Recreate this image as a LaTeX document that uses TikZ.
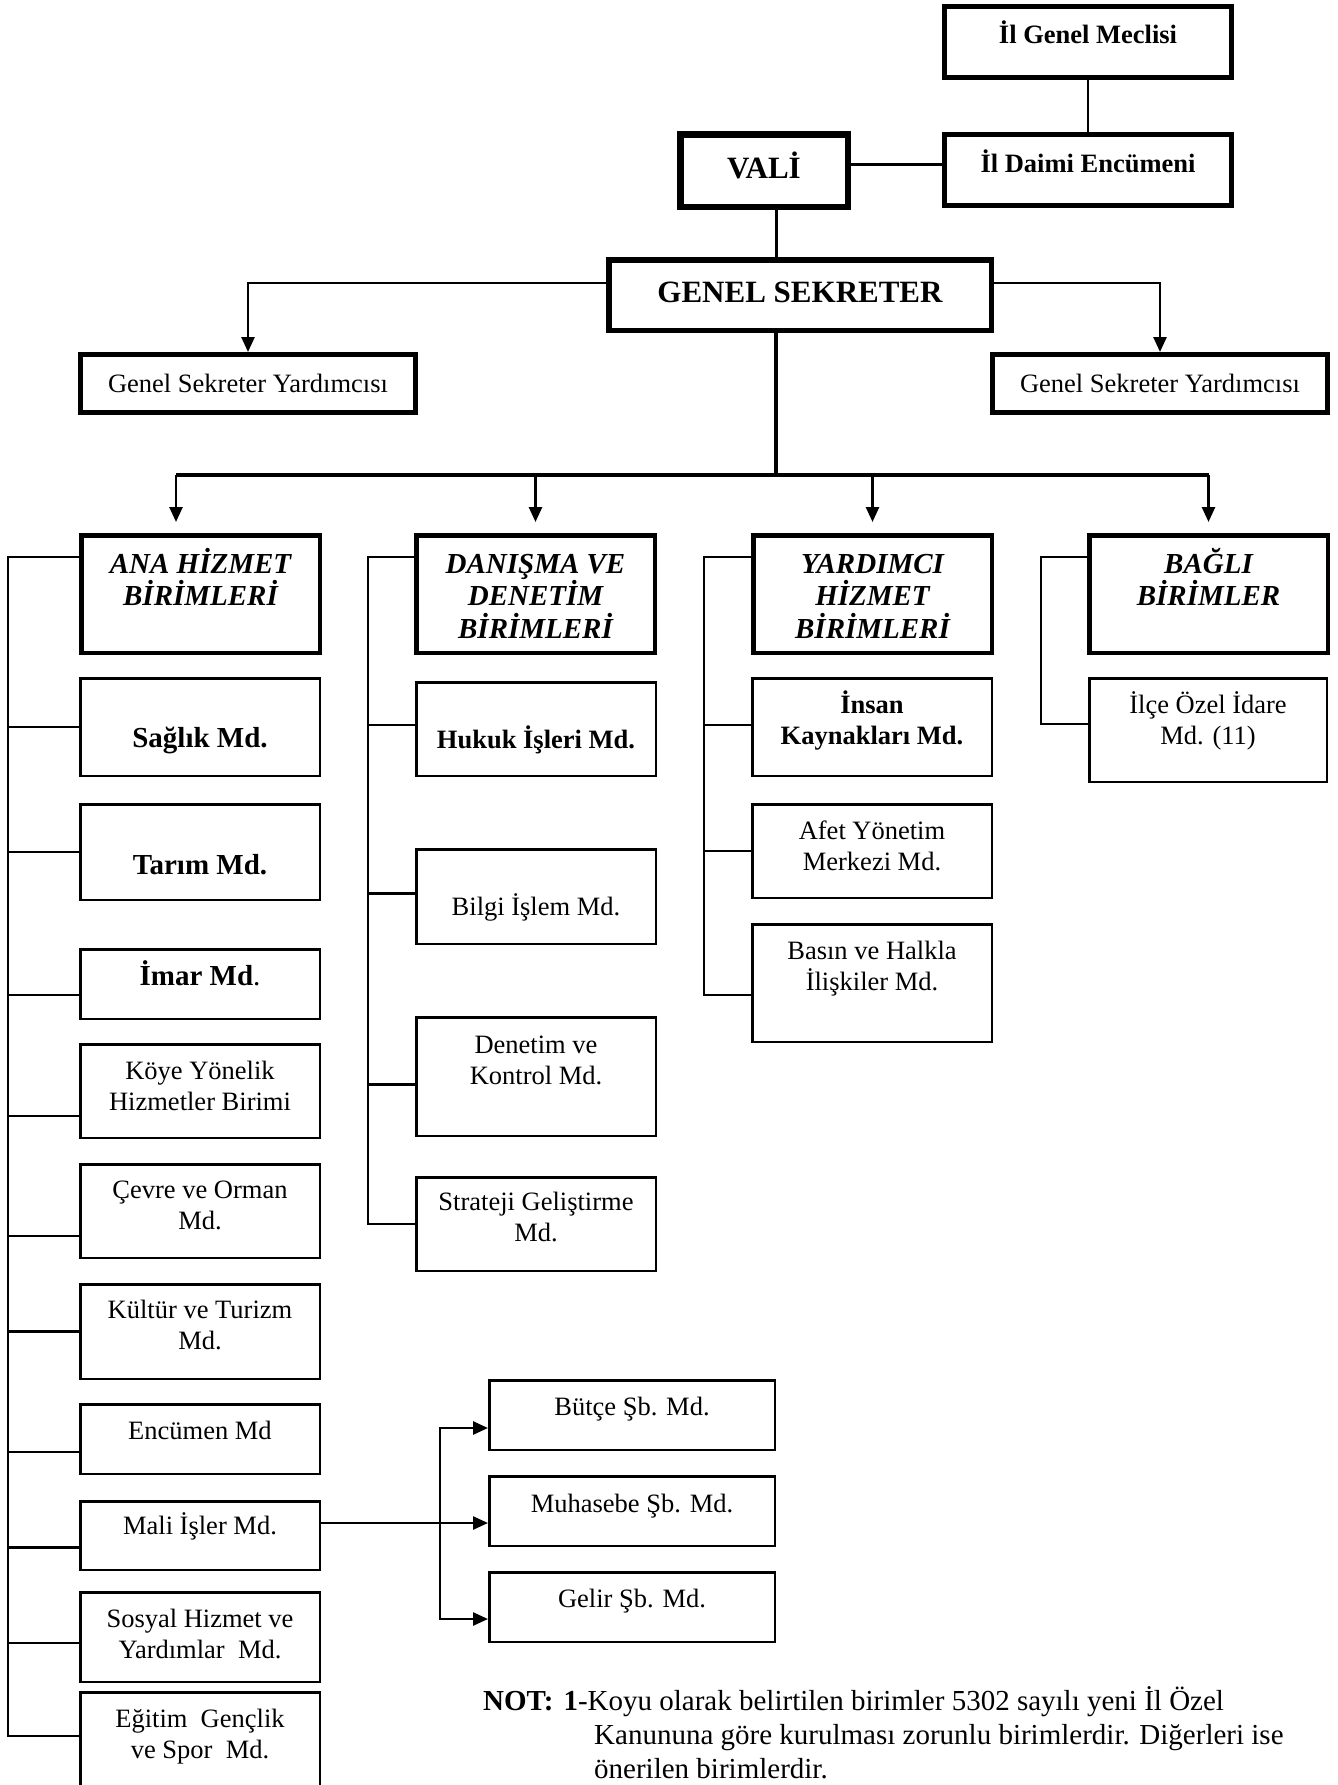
\documentclass[tikz,border=0pt]{standalone}
\usepackage{fontspec}
\setmainfont{Liberation Serif}
\usetikzlibrary{arrows.meta}
% kutu icerigi: genislik, yukseklik, ilk satirin taban cizgisi
\newcommand{\bx}[4][35pt]{\parbox[c][#3][t]{#2}{\centering\rule{0pt}{#1}#4\par}}
\tikzset{
 unitbox/.style={draw, line width=2.5pt, inner sep=0pt, anchor=north west},
 topbox/.style={unitbox, line width=5pt, font=\fontsize{26.5}{31}\selectfont\bfseries},
 headbox/.style={unitbox, line width=4.5pt, font=\fontsize{29}{32.5}\selectfont\bfseries\itshape},
 conn/.style={line width=2.6pt},
 spine/.style={line width=2.2pt},
}
\begin{document}
\begin{tikzpicture}[x=1pt, y=-1pt, font=\fontsize{26.5}{31}\selectfont, >={Triangle[length=15pt,width=13pt]}]
 \useasboundingbox (0,0) rectangle (1338,1785);
 % ust kademe
 \node[topbox] (meclis) at (942,4) {\bx[37pt]{287pt}{71pt}{İl Genel Meclisi}};
 \node[topbox] (encumeni) at (942,132) {\bx[38pt]{287pt}{71pt}{İl Daimi Encümeni}};
 \node[topbox, line width=6.5pt, font=\fontsize{31}{35}\selectfont\bfseries] (vali) at (677,131) {\bx[44pt]{167.5pt}{72.5pt}{VALİ}};
 \node[topbox, line width=5.5pt, font=\fontsize{31}{35}\selectfont\bfseries] (gs) at (606,257) {\bx[43pt]{382.5pt}{70.5pt}{GENEL SEKRETER}};
 \node[topbox, font=\fontsize{26.5}{31}\selectfont] (gsyL) at (78,352) {\bx[38pt]{335pt}{58pt}{Genel Sekreter Yardımcısı}};
 \node[topbox, font=\fontsize{26.5}{31}\selectfont] (gsyR) at (990,352) {\bx[38pt]{335pt}{58pt}{Genel Sekreter Yardımcısı}};
 % birim basliklari
 \node[headbox] (ana) at (79,533) {\bx[38pt]{238.5pt}{117.5pt}{ANA HİZMET\\BİRİMLERİ}};
 \node[headbox] (dan) at (414,533) {\bx[38pt]{238.5pt}{117.5pt}{DANIŞMA VE\\DENETİM\\BİRİMLERİ}};
 \node[headbox] (yar) at (751,533) {\bx[38pt]{238.5pt}{117.5pt}{YARDIMCI\\HİZMET\\BİRİMLERİ}};
 \node[headbox] (bag) at (1087,533) {\bx[38pt]{238.5pt}{117.5pt}{BAĞLI\\BİRİMLER}};
 % ana hizmet birimleri
 \node[unitbox, font=\fontsize{29}{33}\selectfont\bfseries] (saglik) at (79,677) {\bx[69pt]{239.5pt}{97.5pt}{Sağlık Md.}};
 \node[unitbox, font=\fontsize{29}{33}\selectfont\bfseries] (tarim) at (79,803) {\bx[70pt]{239.5pt}{95.5pt}{Tarım Md.}};
 \node[unitbox, font=\fontsize{29}{33}\selectfont] (imar) at (79,948) {\bx[36pt]{239.5pt}{69.5pt}{\textbf{İmar Md}.}};
 \node[unitbox] (koye) at (79,1043) {\bx{239.5pt}{93.5pt}{Köye Yönelik\\Hizmetler Birimi}};
 \node[unitbox] (cevre) at (79,1163) {\bx[34pt]{239.5pt}{93.5pt}{Çevre ve Orman\\Md.}};
 \node[unitbox] (kultur) at (79,1283) {\bx[34pt]{239.5pt}{94.5pt}{Kültür ve Turizm\\Md.}};
 \node[unitbox] (encumen) at (79,1403) {\bx{239.5pt}{69.5pt}{Encümen Md}};
 \node[unitbox] (mali) at (79,1500) {\bx[33pt]{239.5pt}{68.5pt}{Mali İşler Md.}};
 \node[unitbox] (sosyal) at (79,1591) {\bx{239.5pt}{89.5pt}{Sosyal Hizmet ve\\Yardımlar~ Md.}};
 \node[unitbox] (egitim) at (79,1691) {\bx{239.5pt}{120pt}{Eğitim~ Gençlik\\ve Spor~ Md.}};
 % danisma ve denetim birimleri
 \node[unitbox, font=\fontsize{26.5}{31}\selectfont\bfseries] (hukuk) at (415,681) {\bx[66pt]{239.5pt}{93.5pt}{Hukuk İşleri Md.}};
 \node[unitbox] (bilgi) at (415,848) {\bx[66pt]{239.5pt}{94.5pt}{Bilgi İşlem Md.}};
 \node[unitbox] (denetim) at (415,1016) {\bx[36pt]{239.5pt}{118.5pt}{Denetim ve\\Kontrol Md.}};
 \node[unitbox] (strateji) at (415,1176) {\bx[33pt]{239.5pt}{93.5pt}{Strateji Geliştirme\\Md.}};
 % yardimci hizmet birimleri
 \node[unitbox, font=\fontsize{26.5}{31}\selectfont\bfseries] (insan) at (751,677) {\bx{239.5pt}{97.5pt}{İnsan\\Kaynakları Md.}};
 \node[unitbox] (afet) at (751,803) {\bx{239.5pt}{93.5pt}{Afet Yönetim\\Merkezi Md.}};
 \node[unitbox] (basin) at (751,923) {\bx{239.5pt}{117.5pt}{Basın ve Halkla\\İlişkiler Md.}};
 % bagli birimler
 \node[unitbox] (ilce) at (1088,677) {\bx{237.5pt}{103.5pt}{İlçe Özel İdare\\Md. (11)}};
 % mali isler alt birimleri
 \node[unitbox] (butce) at (488,1379) {\bx{285.5pt}{69.5pt}{Bütçe Şb. Md.}};
 \node[unitbox] (muhasebe) at (488,1475) {\bx[36pt]{285.5pt}{69.5pt}{Muhasebe Şb. Md.}};
 \node[unitbox] (gelir) at (488,1571) {\bx{285.5pt}{69.5pt}{Gelir Şb. Md.}};
 % baglantilar
 \coordinate (tr) at (776,475);
 \coordinate (ba) at (176,475);
 \draw[conn] (meclis) -- (encumeni);
 \draw[conn, line width=3pt] ([yshift=6pt]vali.east) -- ([yshift=6pt]vali.east -| encumeni.west);
 \draw[conn, line width=3pt] (vali.south -| tr) -- (gs.north -| tr);
 \draw[conn, line width=3.5pt] (gs.south -| tr) -- (tr);
 \draw[conn,->] ([yshift=12pt]gs.west) -| (gsyL.north);
 \draw[conn,->] ([yshift=12pt]gs.east) -| (gsyR.north);
 \draw[conn, line width=3.5pt] (ba) -- (tr -| bag.north);
 \draw[conn,->,shorten >=11pt] (ba) -- (ba |- ana.north);
 \foreach \hd in {dan,yar,bag}
  \draw[conn,->,shorten >=11pt] (tr -| \hd.north) -- (\hd.north);
 \coordinate (s1) at (8,557);
 \coordinate (s2) at (368,557);
 \coordinate (s3) at (704,557);
 \coordinate (s4) at (1041,557);
 \foreach \nm/\sh in {ana/37, saglik/0, tarim/0, imar/-11, koye/-25, cevre/-25, kultur/0, encumen/-13, mali/-12, sosyal/-6, egitim/16}
  \draw[spine] ([yshift=\sh pt]\nm.west) coordinate (br-\nm) -- (br-\nm -| s1);
 \foreach \nm/\sh in {dan/37, hukuk/4, bilgi/3, denetim/-8, strateji/0}
  \draw[spine] ([yshift=\sh pt]\nm.west) coordinate (br-\nm) -- (br-\nm -| s2);
 \foreach \nm/\sh in {yar/37, insan/2, afet/0, basin/-12}
  \draw[spine] ([yshift=\sh pt]\nm.west) coordinate (br-\nm) -- (br-\nm -| s3);
 \foreach \nm/\sh in {bag/37, ilce/6}
  \draw[spine] ([yshift=\sh pt]\nm.west) coordinate (br-\nm) -- (br-\nm -| s4);
 \draw[spine, line cap=rect] (s1) -- (s1 |- br-egitim);
 \draw[spine, line cap=rect] (s2) -- (s2 |- br-strateji);
 \draw[spine, line cap=rect] (s3) -- (s3 |- br-basin);
 \draw[spine, line cap=rect] (s4) -- (s4 |- br-ilce);
 \coordinate (mj) at (440,1523);
 \draw[conn,->] ([yshift=12.5pt]mali.east) -- ([yshift=-12pt]muhasebe.west);
 \draw[conn,->] (mj) |- ([yshift=-13pt]butce.west);
 \draw[conn,->] (mj) |- ([yshift=-12pt]gelir.west);
 % not
 \node[anchor=base west, inner sep=0pt, font=\fontsize{29}{34}\selectfont] (nota) at (483,1710)
  {\parbox[t]{850pt}{\hangindent=111pt\hangafter=1\textbf{NOT:\hspace{10pt}1}-Koyu olarak belirtilen birimler 5302 sayılı yeni İl Özel\\Kanununa göre kurulması zorunlu birimlerdir. Diğerleri ise\\önerilen birimlerdir.}};
\end{tikzpicture}
\end{document}
